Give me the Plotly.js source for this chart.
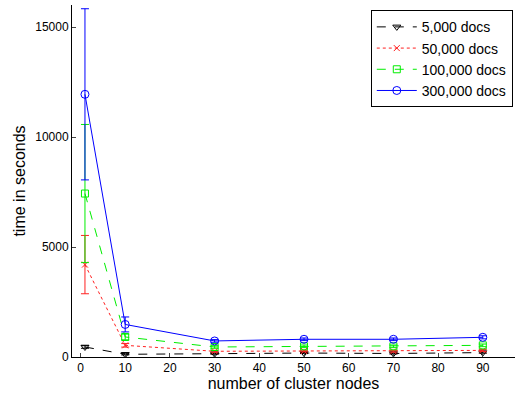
<!DOCTYPE html>
<html><head><meta charset="utf-8">
<script src="https://cdn.plot.ly/plotly-3.0.1.min.js"></script>
<style>body{margin:0;background:#fff}#c{width:515px;height:394px}</style>
</head><body><div id="c"></div>
<script>
const nodes = [1, 10, 30, 50, 70, 90];
const names = ["5,000 docs", "50,000 docs", "100,000 docs", "300,000 docs"];
const t5k   = [455, 123, 150, 180, 160, 200];
const t50k  = [4200, 530, 260, 273, 265, 300];
const t100k = [7430, 910, 455, 486, 486, 530];
const t300k = [11940, 1480, 730, 805, 805, 895];
const e5k   = [60, 30, 25, 25, 25, 30];
const e50k  = [1325, 80, 40, 40, 40, 45];
const e100k = [3140, 130, 60, 60, 60, 60];
const e300k = [3890, 340, 60, 60, 60, 70];
const xTicks = [0, 10, 20, 30, 40, 50, 60, 70, 80, 90];
const yTicks = [0, 5000, 10000, 15000];
const yTickText = ["0", "5000", "10000", "15000"];

function tr(name, y, err, color, dash, symbol, msize){
  return {x: nodes, y: y, name: name, type: 'scatter', mode: 'lines+markers',
    line: {color: color, dash: dash, width: 1},
    marker: {symbol: symbol, size: msize, color: color, line: {color: color, width: 1}},
    error_y: {type: 'data', array: err, visible: true, color: color, thickness: 1, width: 4}};
}
const data = [
  tr(names[0], t5k, e5k, '#000000', 'dash', 'triangle-down-open', 7),
  tr(names[1], t50k, e50k, '#ff2020', 'dot', 'x-thin-open', 6),
  tr(names[2], t100k, e100k, '#00ee00', 'dash', 'square-open', 7),
  tr(names[3], t300k, e300k, '#0000ff', 'solid', 'circle-open', 8)
];
const layout = {
  width: 515, height: 394,
  margin: {l: 72, r: 0, t: 5, b: 37},
  paper_bgcolor: '#fff', plot_bgcolor: '#fff',
  font: {family: 'Liberation Sans, Arial, sans-serif', size: 12, color: '#000'},
  showlegend: true,
  legend: {x: 0.995, y: 0.985, xanchor: 'right', yanchor: 'top',
    bordercolor: '#000', borderwidth: 1, bgcolor: '#fff',
    font: {size: 14}, tracegroupgap: 0, itemwidth: 40},
  xaxis: {range: [-1.9, 97.2], tickvals: xTicks, ticks: 'inside', ticklen: 4,
    showline: true, linecolor: '#000', linewidth: 1, showgrid: false, zeroline: false,
    title: {text: 'number of cluster nodes', font: {size: 16}, standoff: 2},
    tickfont: {size: 12}},
  yaxis: {range: [0, 16000], tickvals: yTicks, ticktext: yTickText, ticks: 'inside', ticklen: 4,
    showline: true, linecolor: '#000', linewidth: 1, showgrid: false, zeroline: false,
    title: {text: 'time in seconds', font: {size: 16}, standoff: 5},
    tickfont: {size: 12}}
};
Plotly.newPlot('c', data, layout, {displayModeBar: false, staticPlot: true});
</script></body></html>
